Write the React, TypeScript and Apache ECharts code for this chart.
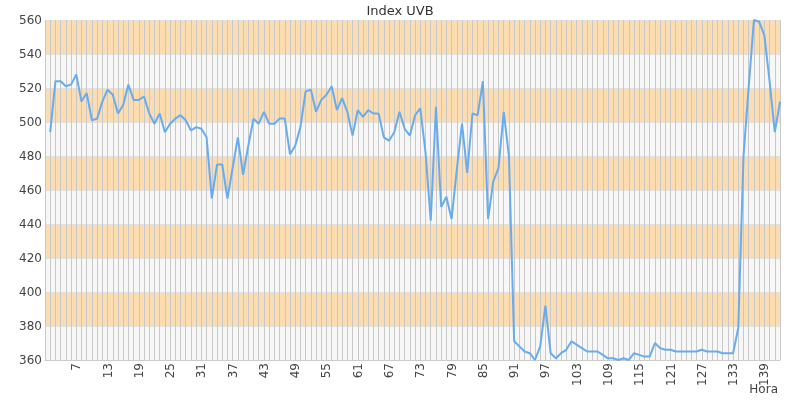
import React, { useEffect, useRef } from "react";
import * as echarts from "echarts";

const titleText = "Index UVB";
const xAxisName = "Hora";

const hours: string[] = [
  "1","2","3","4","5","6","7","8","9","10","11","12","13","14","15","16","17","18","19","20",
  "21","22","23","24","25","26","27","28","29","30","31","32","33","34","35","36","37","38","39","40",
  "41","42","43","44","45","46","47","48","49","50","51","52","53","54","55","56","57","58","59","60",
  "61","62","63","64","65","66","67","68","69","70","71","72","73","74","75","76","77","78","79","80",
  "81","82","83","84","85","86","87","88","89","90","91","92","93","94","95","96","97","98","99","100",
  "101","102","103","104","105","106","107","108","109","110","111","112","113","114","115","116","117","118","119","120",
  "121","122","123","124","125","126","127","128","129","130","131","132","133","134","135","136","137","138","139","140",
  "141","142"
];

const uvbValues: (number | null)[] = [
  null, 494, 524, 524, 521, 522, 528, 512, 517, 501,
  502, 512, 519, 516, 505, 510, 522, 513, 513, 515,
  505, 499, 505, 494, 499, 502, 504, 501, 495, 497,
  496, 491, 455, 475, 475, 455, 473, 491, 469, 486,
  502, 499, 506, 499, 499, 502, 502, 481, 486, 497,
  518, 519, 506, 513, 516, 521, 507, 514, 506, 492,
  507, 503, 507, 505, 505, 491, 489, 494, 506, 496,
  492, 504, 508, 482, 442, 509, 450, 456, 443, 472,
  499, 470, 505, 504, 524, 443, 465, 473, 506, 480,
  371, 368, 365, 364, 360, 368, 392, 364, 361, 364,
  366, 371, 369, 367, 365, 365, 365, 363, 361, 361,
  360, 361, 360, 364, 363, 362, 362, 370, 367, 366,
  366, 365, 365, 365, 365, 365, 366, 365, 365, 365,
  364, 364, 364, 379, 480, 521, 560, 559, 551, 524,
  494, 512
];

const yMin = 360;
const yMax = 560;
const yStep = 20;

export default function App() {
  const ref = useRef<HTMLDivElement>(null);

  useEffect(() => {
    if (!ref.current) return;
    const chart = echarts.init(ref.current, null, { renderer: "svg" });
    chart.setOption({
      animation: false,
      textStyle: { fontFamily: "DejaVu Sans" },
      title: {
        text: titleText,
        left: "center",
        top: -1,
        textStyle: { fontSize: 13, fontWeight: "normal", color: "#333", fontFamily: "DejaVu Sans" },
      },
      grid: {
        left: 45,
        right: 20,
        top: 20,
        bottom: 40,
        containLabel: false,
        outerBoundsMode: "none",
      },
      graphic: [
        {
          type: "text",
          right: 22,
          top: 383,
          style: {
            text: xAxisName,
            fontSize: 12,
            fill: "#444",
            fontFamily: "DejaVu Sans",
          },
        },
      ],
      xAxis: {
        type: "category",
        data: hours,
        boundaryGap: false,
        axisLine: { show: true, lineStyle: { color: "#ccc" } },
        axisTick: { show: false },
        axisLabel: {
          interval: 5,
          rotate: 90,
          margin: 3,
          showMinLabel: false,
          fontSize: 12,
          color: "#444",
        },
        splitLine: { show: true, interval: 0, lineStyle: { color: "#c8c8c8", width: 1 } },
      },
      yAxis: {
        type: "value",
        min: yMin,
        max: yMax,
        interval: yStep,
        axisLine: { show: false },
        axisTick: { show: false },
        axisLabel: { margin: 3, fontSize: 12, color: "#444" },
        splitLine: { show: true, lineStyle: { color: "#e2e2e2" } },
        splitArea: { show: true, areaStyle: { color: ["#f7f7f7", "#fcdcb1"] } },
      },
      series: [
        {
          type: "line",
          data: uvbValues,
          showSymbol: false,
          symbol: "none",
          lineStyle: { color: "#68acef", width: 2 },
          itemStyle: { color: "#68acef" },
          connectNulls: false,
        },
      ],
    });
    return () => chart.dispose();
  }, []);

  return (
    <div
      ref={ref}
      style={{ position: "fixed", left: 0, top: 0, width: 800, height: 400 }}
    />
  );
}
